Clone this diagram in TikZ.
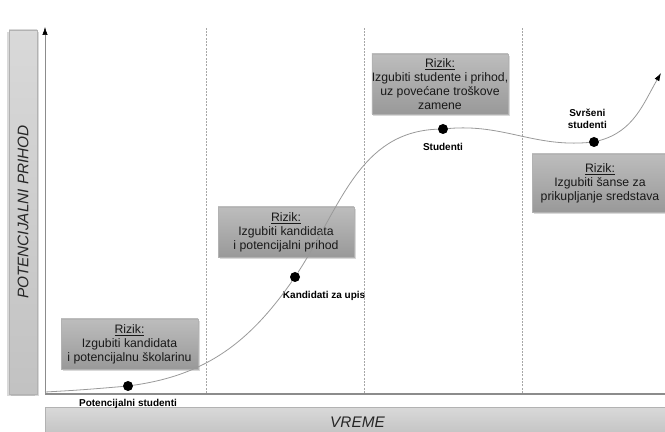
\documentclass[tikz,border=0pt]{standalone}
\usepackage{fontspec}
\setmainfont{Liberation Sans}
\usetikzlibrary{positioning}
\usetikzlibrary{shadows}
\usetikzlibrary{arrows.meta}

\begin{document}
\begin{tikzpicture}[x=0.75pt,y=0.75pt,
  rizik/.style={draw=black!30, top color=black!26, bottom color=black!40, inner sep=0pt,
    drop shadow={shadow xshift=1.2pt, shadow yshift=-1.2pt, opacity=0.3},
    align=center, font=\fontsize{9.2}{10.6}\selectfont, text=black!90},
  axisbar/.style={draw=black!30, top color=black!15, bottom color=black!24, inner sep=0pt,
    drop shadow={shadow xshift=1.2pt, shadow yshift=-1.2pt, opacity=0.3},
    font=\fontsize{11.5}{12}\selectfont\itshape, text=black!85},
  stage/.style={circle, fill=black, inner sep=0pt, minimum size=7.5pt},
  stagelabel/.style={font=\fontsize{7.5}{8.6}\selectfont\bfseries, align=center, inner sep=1pt},
  curve/.style={draw=black!40, line width=0.6pt},
  phase/.style={draw=black!35, line width=0.4pt, dash pattern=on 1.5pt off 1pt}]

  \clip (0,0) rectangle (665,432);

  % axes and their bars
  \node[axisbar, minimum width=273pt, minimum height=21pt, rotate=90,
    drop shadow={shadow xshift=-1.2pt, shadow yshift=-1.2pt, opacity=0.3}] (ybar) at (23,220) {POTENCIJALNI PRIHOD};
  \node[axisbar, minimum width=468pt, minimum height=22pt] (xbar) at (357.5,10) {\raisebox{-2pt}{VREME}};
  \coordinate (o) at (45,38);
  \coordinate (ytop) at (45,405);
  \coordinate (xend) at (667,38);
  \draw[black!45, line width=1pt] (o) -- (xend);
  \draw[black!45, line width=0.4pt, -{Latex[color=black, length=6pt, width=4pt]}] (o) -- (ytop);

  % phases
  \foreach \x in {206,364,522} {
    \draw[phase] (\x,39) -- (\x,404);
  }

  % risk boxes
  \node[rizik, minimum width=102.75pt, minimum height=37.5pt] (r1) at (129.5,88)
    {\underline{Rizik:}\\Izgubiti kandidata\\i potencijalnu školarinu};
  \node[rizik, minimum width=102pt, minimum height=37.5pt] (r2) at (286,200)
    {\underline{Rizik:}\\Izgubiti kandidata\\i potencijalni prihod};
  \node[rizik, minimum width=102pt, minimum height=45pt] (r3) at (440,348)
    {\underline{Rizik:}\\Izgubiti studente i prihod,\\uz povećane troškove\\zamene};
  \node[rizik, minimum width=102pt, minimum height=43.5pt] (r4) at (600,249)
    {\underline{Rizik:}\\Izgubiti šanse za\\prikupljanje sredstava};

  % stages on the curve
  \node[stage] (d1) at (128,46) {};
  \node[stage] (d2) at (295,155) {};
  \node[stage] (d3) at (443,303) {};
  \node[stage] (d4) at (594,290) {};
  \node[stagelabel, below=4.5pt of d1] (l1) {Potencijalni studenti};
  \node[stagelabel, below right=6.4pt and -13pt of d2] (l2) {Kandidati za upis};
  \node[stagelabel, below=5.5pt of d3] (l3) {Studenti};
  \node[stagelabel, above=5pt of d4, xshift=-5pt] (l4) {Svršeni\\studenti};

  % revenue curve
  \coordinate (start) at (45,40);
  \coordinate (tip) at (661,359);
  \draw[curve, -{Latex[color=black, length=6pt, width=4pt]}] (start) to[out=3,in=185] (d1)
    to[out=8,in=235] (d2) to[out=57,in=182] (d3) to[out=5,in=185] (d4) to[out=15,in=240] (tip);
\end{tikzpicture}
\end{document}
